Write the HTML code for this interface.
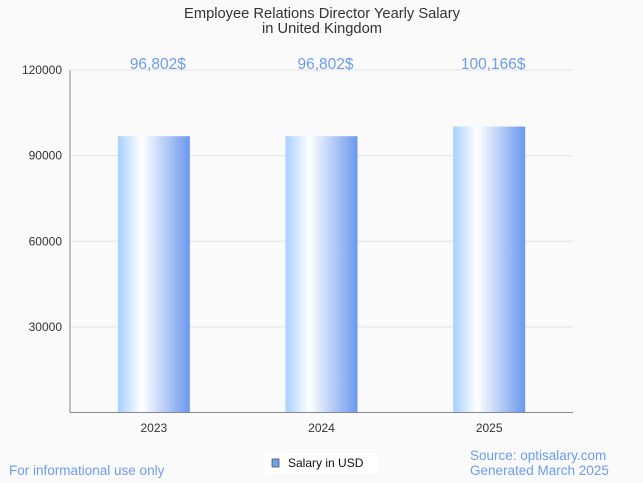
<!DOCTYPE html>
<html><head><meta charset="utf-8"><style>
body{margin:0;background:#fafafa;font-family:"Liberation Sans",sans-serif;}
svg{display:block}
</style></head><body>
<svg width="643" height="483">
<defs><linearGradient id="g" x1="0" x2="1" y1="0" y2="0">
<stop offset="0" stop-color="#a6d0ff"/><stop offset="0.33" stop-color="#ffffff"/><stop offset="1" stop-color="#6a98ee"/>
</linearGradient></defs>
<rect width="643" height="483" fill="#fafafa"/>
<text x="322" y="18" text-anchor="middle" font-size="14.7" fill="#333">Employee Relations Director Yearly Salary</text>
<text x="322" y="33" text-anchor="middle" font-size="14.7" fill="#333">in United Kingdom</text>
<g id="grid"></g><g id="bars"></g>
<line x1="70" y1="70" x2="70" y2="412.5" stroke="#888"/>
<line x1="70" y1="412.5" x2="573" y2="412.5" stroke="#888"/>
<g>
<rect x="265" y="453" width="113" height="21" fill="#fff"/>
<rect x="272" y="459" width="7" height="8" fill="#6aa0e8" stroke="#555" stroke-width="0.8"/>
<text x="288" y="467" font-size="12" fill="#111">Salary in USD</text>
</g>
<text x="9" y="475" font-size="13.5" fill="#6c9cf0">For informational use only</text>
<text x="470" y="460" font-size="13.5" fill="#6c9cf0">Source: optisalary.com</text>
<text x="470" y="475" font-size="13.5" fill="#6c9cf0">Generated March 2025</text>
</svg>
<script>
const categories=["2023","2024","2025"];
const values=[96802,96802,100166];
const valueLabels=["96,802$","96,802$","100,166$"];
const yTicks=[30000,60000,90000,120000];
const x0=70,x1=573,yTop=70,yBot=412.5,yMax=120000;
const y=v=>yBot-(v/yMax)*(yBot-yTop);
const band=(x1-x0)/categories.length;
const cx=i=>x0+band*(i+0.5);
const NS="http://www.w3.org/2000/svg";
const grid=document.getElementById('grid'),bars=document.getElementById('bars');
function mk(t,a,p){const e=document.createElementNS(NS,t);for(const k in a)e.setAttribute(k,a[k]);p.appendChild(e);return e;}
yTicks.forEach(t=>{
 const l=mk('line',{x1:x0,x2:x1,y1:y(t),y2:y(t),stroke:'#e2e2e2'},grid);
 
 
 const tx=mk('text',{x:x0-8,y:y(t)+4,'text-anchor':'end','font-size':12,fill:'#333'},grid);
 tx.textContent=t;
 
 
});
categories.forEach((c,i)=>{
 const r=mk('rect',{x:cx(i)-36,y:y(values[i]),width:72,height:yBot-y(values[i]),fill:'url(#g)'},bars);
 
 
 const v=mk('text',{x:cx(i)+4,y:69,'text-anchor':'middle','font-size':15.5,fill:'#6c9cf0'},bars);
 v.textContent=valueLabels[i];
 
 
 const xl=mk('text',{x:cx(i),y:432,'text-anchor':'middle','font-size':12,fill:'#333'},bars);
 xl.textContent=c;
 
 
});
</script>
</body></html>
